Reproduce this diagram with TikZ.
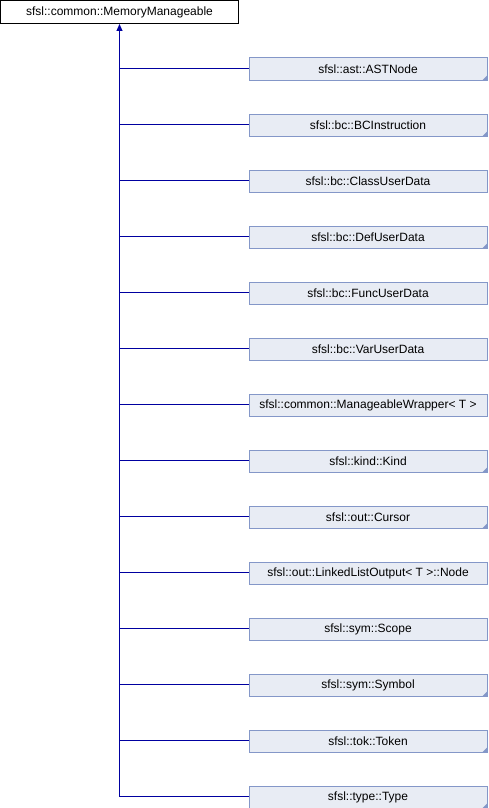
\documentclass[tikz,border=0pt]{standalone}
\usepackage{fontspec}
\setmainfont{Liberation Sans}
\usetikzlibrary{arrows.meta}
\definecolor{linecol}{RGB}{0,0,160}
\definecolor{boxfill}{RGB}{232,236,244}
\definecolor{boxline}{RGB}{132,151,200}
\begin{document}
\begin{tikzpicture}[x=1pt,y=-1pt,
  basebox/.style={draw=black,fill=white,line width=1pt,minimum width=238pt,minimum height=23pt,inner sep=0pt,font=\fontsize{12}{14}\selectfont},
  childbox/.style={draw=boxline,fill=boxfill,line width=1pt,minimum width=238pt,minimum height=22pt,inner sep=0pt,font=\fontsize{12}{14}\selectfont},
  conn/.style={draw=linecol,line width=1.1pt}]
\useasboundingbox (0,0) rectangle (488,808);
\node[basebox] (base) at (119.5,12) {sfsl::common::MemoryManageable};
\foreach \i/\t/\tri in {1/sfsl::ast::ASTNode/1,
  2/sfsl::bc::BCInstruction/1,
  3/sfsl::bc::ClassUserData/0,
  4/sfsl::bc::DefUserData/1,
  5/sfsl::bc::FuncUserData/0,
  6/sfsl::bc::VarUserData/0,
  7/{sfsl::common::ManageableWrapper< T >}/0,
  8/sfsl::kind::Kind/1,
  9/sfsl::out::Cursor/1,
  10/{sfsl::out::LinkedListOutput< T >::Node}/0,
  11/sfsl::sym::Scope/0,
  12/sfsl::sym::Symbol/1,
  13/sfsl::tok::Token/1,
  14/sfsl::type::Type/1}{
  \node[childbox] (c\i) at (368,{13+56*(\i-1)+56}) {\t};
  \ifnum\tri=1
    \fill[boxline] ([xshift=-5pt,yshift=0.5pt]c\i.south east) -- ([xshift=-0.5pt,yshift=0.5pt]c\i.south east) -- ([xshift=-0.5pt,yshift=5pt]c\i.south east) -- cycle;
  \fi
  \draw[conn] ([yshift=0.5pt]base.south |- c\i.west) -- ([yshift=0.5pt]c\i.west);
}
\coordinate (trunk) at ([yshift=0.5pt]base.south |- c14.west);
\draw[conn,-{Triangle[length=7pt,width=6pt]}] (trunk) -- (base.south);
\end{tikzpicture}
\end{document}
